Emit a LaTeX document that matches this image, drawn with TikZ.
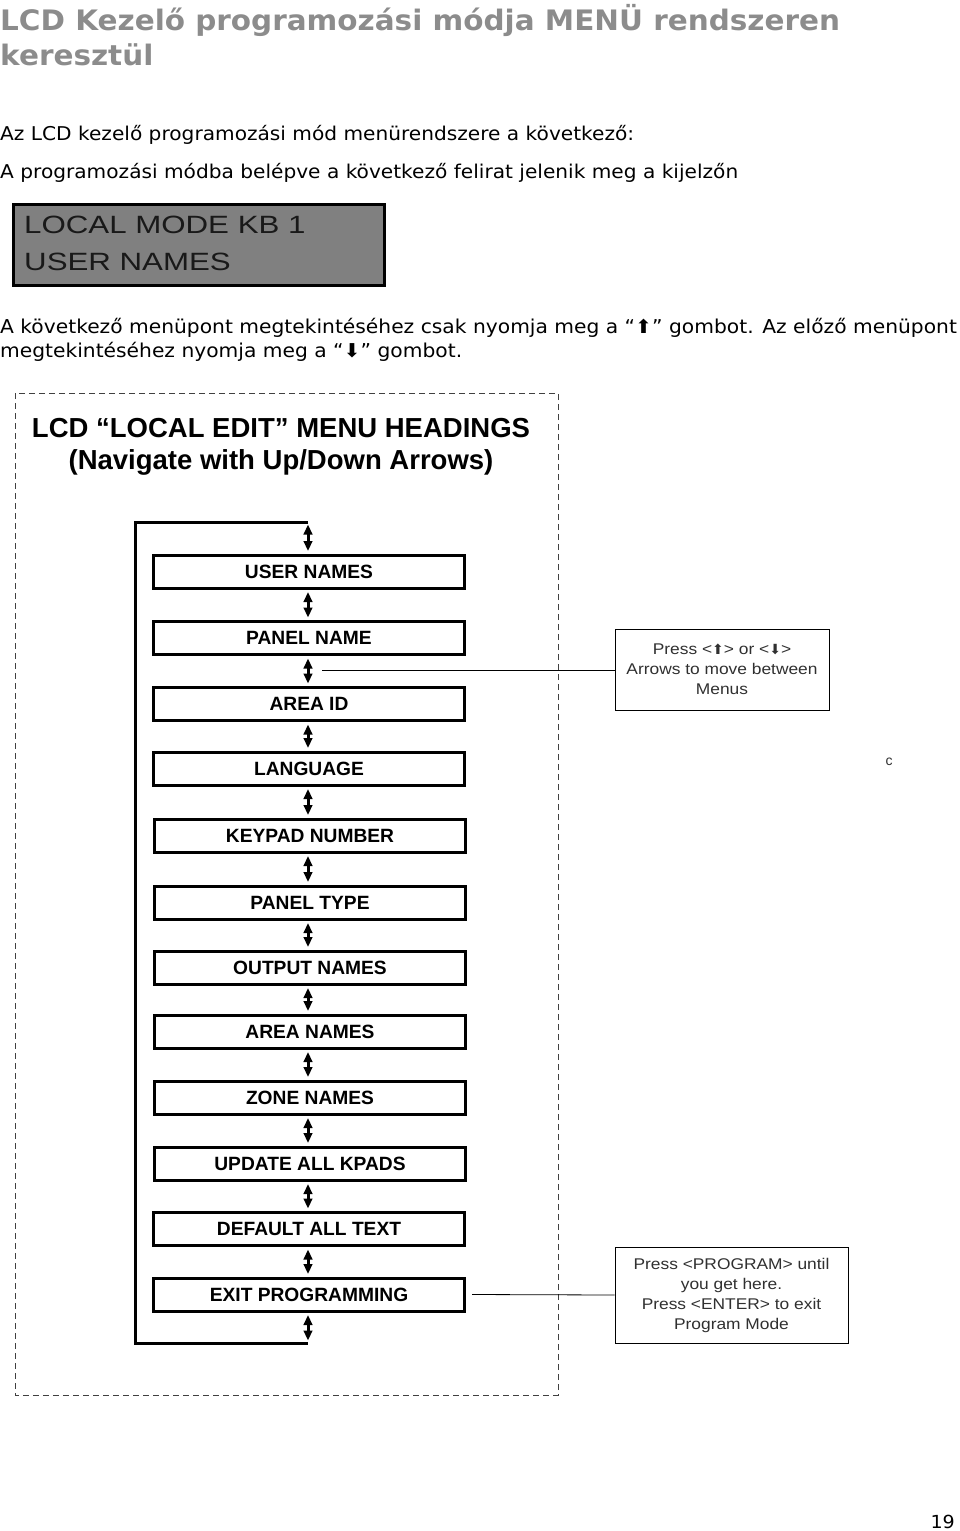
\documentclass[tikz,border=0pt]{standalone}
\usepackage{fontspec}
\setmainfont{DejaVu Sans}
\newfontfamily\titlefont[FakeStretch=1.045]{DejaVu Sans}
\newfontfamily\verdana[FakeStretch=1.06]{DejaVu Sans}
\newfontfamily\dejavu{DejaVu Sans}
\newfontfamily\arial{Liberation Sans}
\newfontfamily\callfont[FakeStretch=1.12]{Liberation Sans}
\newfontfamily\lcdfont[FakeStretch=1.25]{Liberation Sans}
\usetikzlibrary{arrows.meta}
\definecolor{titlegray}{HTML}{8C8C8C}
\definecolor{lcdgray}{HTML}{808080}
\definecolor{calltext}{HTML}{303030}
\tikzset{
  menubox/.style={draw, line width=3pt, minimum width=311pt, minimum height=33pt, inner sep=0pt,
    font=\arial\bfseries\fontsize{19.2}{19.2}\selectfont},
  dbl/.style={{Triangle[length=10pt,width=8.5pt]}-{Triangle[length=10pt,width=8.5pt]}, line width=3pt, shorten <=2.5pt, shorten >=2.5pt},
  callout/.style={draw, line width=0.8pt, inner sep=0pt, align=center, text=calltext,
    font=\callfont\fontsize{15.5}{20}\selectfont},
  txt/.style={anchor=base west, inner sep=0pt},
}
\begin{document}
\begin{tikzpicture}[x=1pt,y=-1pt]
\useasboundingbox (0,0) rectangle (960,1531);
% title
\node[txt, text=titlegray, font=\titlefont\bfseries\fontsize{28.2}{28.2}\selectfont] (t1) at (0,30) {LCD Kezelő programozási módja MENÜ rendszeren};
\node[txt, text=titlegray, font=\titlefont\bfseries\fontsize{28.2}{28.2}\selectfont] (t2) at (0,65) {keresztül};
\node[txt, font=\verdana\fontsize{19}{19}\selectfont] (p1) at (0,140) {Az LCD kezelő programozási mód menürendszere a következő:};
\node[txt, font=\verdana\fontsize{19}{19}\selectfont] (p2) at (0,178) {A programozási módba belépve a következő felirat jelenik meg a kijelzőn};
% LCD display
\node[draw, line width=3pt, fill=lcdgray, minimum width=371pt, minimum height=81pt, inner sep=0pt] (lcd) at (199,245) {};
\node[txt, text=black!90, font=\lcdfont\fontsize{25}{25}\selectfont] (l1) at (24,233) {LOCAL MODE KB 1};
\node[txt, text=black!90, font=\lcdfont\fontsize{25}{25}\selectfont] (l2) at (24,270) {USER NAMES};
% paragraph
\node[txt, font=\verdana\fontsize{19.1}{19.1}\selectfont] (p3) at (0,333) {A következő menüpont megtekintéséhez csak nyomja meg a “⬆” gombot. Az előző menüpont};
\node[txt, font=\verdana\fontsize{19.1}{19.1}\selectfont] (p4) at (0,357) {megtekintéséhez nyomja meg a “⬇” gombot.};
% dashed frame
\draw[gray!50!black, line width=1pt, dash pattern=on 6pt off 4pt] (15,393) rectangle (558,1395);
\node[font=\arial\bfseries\fontsize{27.5}{27.5}\selectfont, anchor=base] (h1) at (281,437) {LCD “LOCAL EDIT” MENU HEADINGS};
\node[font=\arial\bfseries\fontsize{27.5}{27.5}\selectfont, anchor=base] (h2) at (281,469) {(Navigate with Up/Down Arrows)};
% menu boxes
\node[menubox] (b1) at (309,571.5) {USER NAMES};
\node[menubox] (b2) at (309,638) {PANEL NAME};
\node[menubox] (b3) at (309,704) {AREA ID};
\node[menubox] (b4) at (309,768.5) {LANGUAGE};
\node[menubox] (b5) at (310,835.5) {KEYPAD NUMBER};
\node[menubox] (b6) at (310,902.5) {PANEL TYPE};
\node[menubox] (b7) at (310,967.5) {OUTPUT NAMES};
\node[menubox] (b8) at (310,1031.5) {AREA NAMES};
\node[menubox] (b9) at (310,1097.5) {ZONE NAMES};
\node[menubox] (b10) at (310,1163.5) {UPDATE ALL KPADS};
\node[menubox] (b11) at (309,1229) {DEFAULT ALL TEXT};
\node[menubox] (b12) at (309,1294.5) {EXIT PROGRAMMING};
% loop
\coordinate (lt) at (308,522);
\coordinate (lb) at (308,1343);
\draw[line width=3pt] (lt) -| (135,1343) -- (lb);
\draw[dbl] (lt) -- (b1.north -| lt);
\draw[dbl] (b1.south -| lt) -- (b2.north -| lt);
\draw[dbl] (b2.south -| lt) -- (b3.north -| lt);
\draw[dbl] (b3.south -| lt) -- (b4.north -| lt);
\draw[dbl] (b4.south -| lt) -- (b5.north -| lt);
\draw[dbl] (b5.south -| lt) -- (b6.north -| lt);
\draw[dbl] (b6.south -| lt) -- (b7.north -| lt);
\draw[dbl] (b7.south -| lt) -- (b8.north -| lt);
\draw[dbl] (b8.south -| lt) -- (b9.north -| lt);
\draw[dbl] (b9.south -| lt) -- (b10.north -| lt);
\draw[dbl] (b10.south -| lt) -- (b11.north -| lt);
\draw[dbl] (b11.south -| lt) -- (b12.north -| lt);
\draw[dbl] (b12.south -| lt) -- (lb);
% callouts
\node[callout, minimum width=214pt, minimum height=81pt] (c1) at (722,669.5) {Press <{\dejavu\fontsize{14}{14}\selectfont ⬆}> or <{\dejavu\fontsize{14}{14}\selectfont ⬇}>\\Arrows to move between\\Menus};
\node[callout, minimum width=233pt, minimum height=96pt] (c2) at (731.5,1295) {Press <PROGRAM> until\\you get here.\\Press <ENTER> to exit\\Program Mode};
\coordinate (k1) at (322,670);
\draw[line width=0.8pt] (k1) -- (k1 -| c1.west);
\draw[line width=0.8pt] ([xshift=6pt]b12.east) -- (c2.west);
\node[font=\arial\fontsize{14}{14}\selectfont, text=calltext] (cc) at (889,762) {c};
% page number
\node[anchor=base east, inner sep=0pt, font=\verdana\fontsize{18}{18}\selectfont] (pg) at (955,1528) {19};
\end{tikzpicture}
\end{document}
